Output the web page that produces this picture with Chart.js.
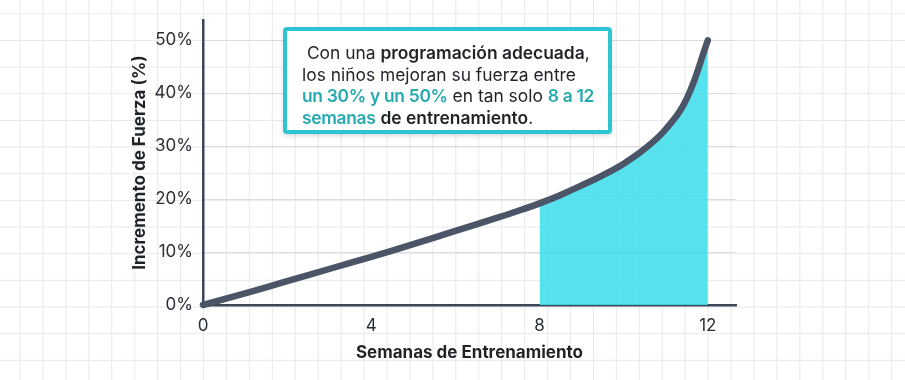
<!DOCTYPE html>
<html lang="es">
<head>
<meta charset="utf-8">
<script src="https://cdn.jsdelivr.net/npm/chart.js@4/dist/chart.umd.min.js"></script>
<style>
  html, body { margin: 0; padding: 0; }
  body {
    width: 905px; height: 380px; overflow: hidden; position: relative;
    background-color: #ffffff;
    background-image:
      linear-gradient(to right, #e8e8e8 1px, transparent 1px),
      linear-gradient(to bottom, #e8e8e8 1px, transparent 1px);
    background-size: 22.94px 26.67px;
    background-position: 19.5px 13.3px;
  }
  #c { position: absolute; left: 0; top: 0; }
  .note {
    position: absolute; left: 283px; top: 27px; width: 329px; height: 107px;
    box-sizing: border-box; border: 4px solid #2ec5d3; border-radius: 4px;
    background: #ffffff; box-shadow: 0 2px 4px rgba(0,0,0,0.15);
    padding: 11px 0 0 15px;
    font-family: Inter, "Noto Sans", sans-serif; font-size: 17.4px; line-height: 21.5px;
    color: #1f2328; white-space: nowrap;
  }
  .note b { font-weight: 600; }
  .note .t { color: #27a9b1; font-weight: 600; letter-spacing: -0.3px; }
</style>
</head>
<body>
<canvas id="c" width="905" height="380"></canvas>
<div class="note">&nbsp;Con una <b>programación adecuada</b>,<br>los niños mejoran su fuerza entre<br><span class="t">un 30% y un 50%</span> en tan solo <span class="t">8 a 12</span><br><span class="t">semanas</span> <b>de entrenamiento</b>.</div>
<script>
// Data
const weeks     = [0, 1, 2, 3, 4, 5, 6, 7, 7.5, 8, 8.5, 9, 9.5, 10, 10.5, 11, 11.5, 12];
const strength  = [0, 2.2, 4.5, 6.8, 9.1, 11.5, 14.0, 16.5, 17.8, 19.2, 20.8, 22.6, 24.5, 26.7, 29.5, 33.2, 39.0, 50.0];
const highlightFrom = 8;
const xTicks = [0, 4, 8, 12];
const yTicks = [0, 10, 20, 30, 40, 50];
const xTitle = 'Semanas de Entrenamiento';
const yTitle = 'Incremento de Fuerza (%)';

const linePts = weeks.map((w, i) => ({ x: w, y: strength[i] }));
const fillPts = linePts.filter(p => p.x >= highlightFrom);

Chart.defaults.font.family = 'Inter, "Noto Sans", sans-serif';

new Chart(document.getElementById('c'), {
  type: 'line',
  data: {
    datasets: [
      {
        data: linePts,
        borderColor: '#4a5568',
        borderWidth: 6.5,
        borderCapStyle: 'round',
        borderJoinStyle: 'round',
        pointRadius: 0,
        fill: false,
        tension: 0.4,
        clip: false
      },
      {
        data: fillPts,
        borderWidth: 0,
        borderColor: 'rgba(0,0,0,0)',
        backgroundColor: 'rgba(64,222,236,0.88)',
        pointRadius: 0,
        fill: 'origin',
        tension: 0.4
      }
    ]
  },
  options: {
    responsive: false,
    animation: false,
    events: [],
    layout: { padding: { left: 130, right: 169, top: 20, bottom: 17 } },
    plugins: { legend: { display: false }, tooltip: { enabled: false } },
    scales: {
      x: {
        type: 'linear', min: 0, max: 12.67,
        afterBuildTicks: s => { s.ticks = xTicks.map(v => ({ value: v })); },
        afterFit: s => { s.height = 58; },
        grid: { display: false, drawTicks: false },
        border: { display: true, color: '#3d4657', width: 2.5 },
        ticks: { color: '#2b2f36', font: { size: 17 }, padding: 11, maxRotation: 0 },
        title: { display: true, text: xTitle, color: '#1f2328', font: { size: 17, weight: 'bold' }, padding: 0 }
      },
      y: {
        type: 'linear', min: 0, max: 53.8,
        afterBuildTicks: s => { s.ticks = yTicks.map(v => ({ value: v })); },
        afterFit: s => { s.width = 73; },
        grid: { color: '#dcdcdc', lineWidth: 1, drawTicks: false },
        border: { display: true, color: '#3d4657', width: 2.5 },
        ticks: { color: '#2b2f36', font: { size: 17 }, padding: 10, callback: v => v + '%' },
        title: { display: true, text: yTitle, color: '#1f2328', font: { size: 17, weight: 'bold' }, padding: 0 }
      }
    }
  }
});
</script>
</body>
</html>
